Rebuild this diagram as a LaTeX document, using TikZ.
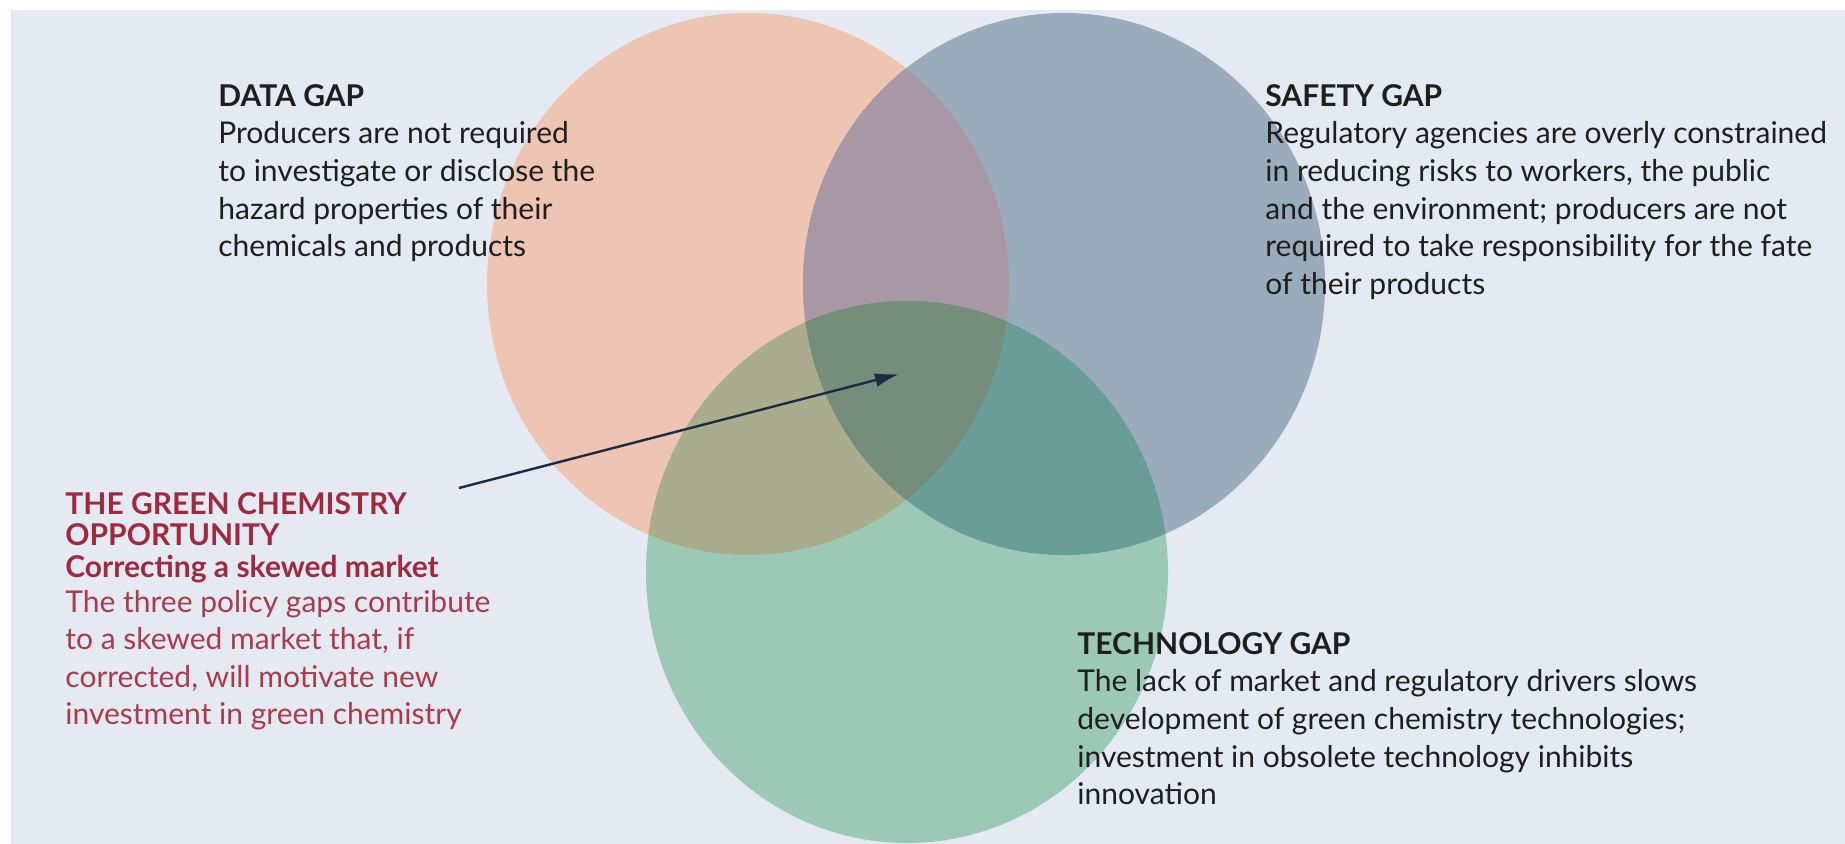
\documentclass[tikz,border=0pt]{standalone}
\usepackage{fontspec}
\setmainfont{Lato}
\usetikzlibrary{arrows.meta}
\definecolor{bgc}{HTML}{E5E9F1}
\definecolor{pinkc}{HTML}{EEC4B3}
\definecolor{bluec}{HTML}{9AABBC}
\definecolor{greenc}{HTML}{9CC9B5}
\definecolor{pbc}{HTML}{A898A5}
\definecolor{pgc}{HTML}{AAAD8D}
\definecolor{bgrc}{HTML}{6A9C98}
\definecolor{allc}{HTML}{758E7C}
\definecolor{txtc}{HTML}{1E1E1E}
\definecolor{redc}{HTML}{A0283F}
\definecolor{redb}{HTML}{AA3A4C}
\definecolor{arrc}{HTML}{1C2B44}
\tikzset{
  gaptext/.style={anchor=north west, inner sep=0pt, align=left, text=txtc,
    font=\fontsize{15}{18.8}\selectfont},
  redtext/.style={anchor=north west, inner sep=0pt, align=left, text=redb,
    font=\fontsize{15}{18.8}\selectfont},
  pointer/.style={draw=arrc, line width=1.2pt, -{Latex[length=12pt,width=7pt]}}
}
\begin{document}
\begin{tikzpicture}[x=0.5pt,y=-0.5pt]
\useasboundingbox (0,0) rectangle (1845,844);
\fill[white] (0,0) rectangle (1845,844);
\fill[bgc] (11,10) rectangle (1845,844);
\coordinate (cP) at (748,284);
\coordinate (cB) at (1064,284);
\coordinate (cG) at (907,572);
\def\RX{130.5pt}
\def\RY{135.5pt}
% circles
\fill[pinkc] (cP) ellipse[x radius=\RX, y radius=\RY];
\fill[bluec] (cB) ellipse[x radius=\RX, y radius=\RY];
\fill[greenc] (cG) ellipse[x radius=\RX, y radius=\RY];
% pairwise overlaps
\begin{scope}
  \clip (cP) ellipse[x radius=\RX, y radius=\RY];
  \fill[pbc] (cB) ellipse[x radius=\RX, y radius=\RY];
  \fill[pgc] (cG) ellipse[x radius=\RX, y radius=\RY];
\end{scope}
\begin{scope}
  \clip (cB) ellipse[x radius=\RX, y radius=\RY];
  \fill[bgrc] (cG) ellipse[x radius=\RX, y radius=\RY];
\end{scope}
% triple overlap
\begin{scope}
  \clip (cP) ellipse[x radius=\RX, y radius=\RY];
  \clip (cB) ellipse[x radius=\RX, y radius=\RY];
  \fill[allc] (cG) ellipse[x radius=\RX, y radius=\RY];
\end{scope}
% texts
\node[gaptext] (data) at (218,84) {\textbf{DATA GAP}\\
Producers are not required\\
to investigate or disclose the\\
hazard properties of their\\
chemicals and products};
\node[gaptext] (safety) at (1265,84) {\textbf{SAFETY GAP}\\
Regulatory agencies are overly constrained\\
in reducing risks to workers, the public\\
and the environment; producers are not\\
required to take responsibility for the fate\\
of their products};
\node[gaptext] (tech) at (1077,632) {\textbf{TECHNOLOGY GAP}\\
The lack of market and regulatory drivers slows\\
development of green chemistry technologies;\\
investment in obsolete technology inhibits\\
innovation};
\node[redtext] (green) at (65,492) {\textcolor{redc}{\textbf{THE GREEN CHEMISTRY}}\\[-3pt]
\textcolor{redc}{\textbf{OPPORTUNITY}}\\[-3pt]
\textcolor{redc}{\textbf{Correcting a skewed market}}\\[-1.5pt]
The three policy gaps contribute\\
to a skewed market that, if\\
corrected, will motivate new\\
investment in green chemistry};
% arrow
\coordinate (aS) at (459,488);
\coordinate (aE) at (899,374);
\draw[pointer] (aS) -- (aE);
\end{tikzpicture}
\end{document}
